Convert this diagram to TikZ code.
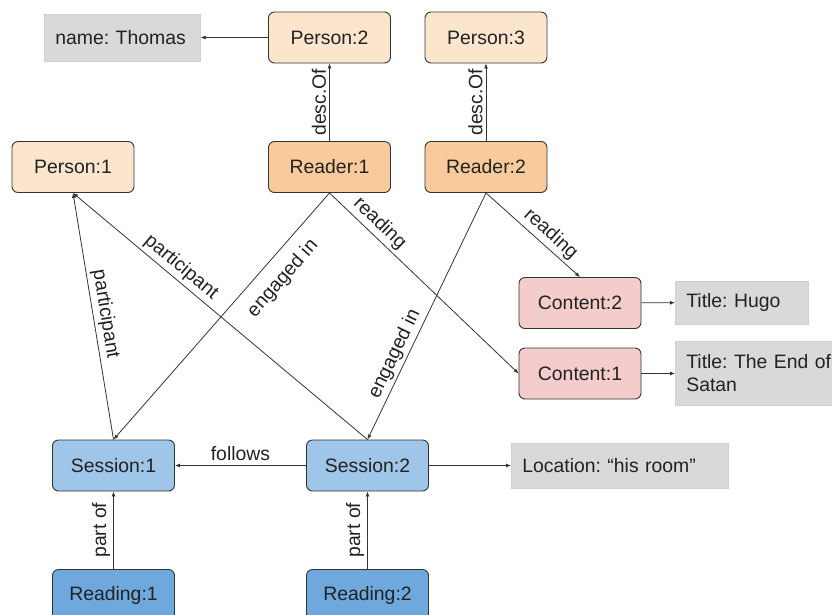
\documentclass[tikz,border=0pt]{standalone}
\usepackage{fontspec}
\setmainfont{Liberation Sans}
\usetikzlibrary{arrows.meta}
\definecolor{personc}{HTML}{FCE5CD}
\definecolor{readerc}{HTML}{F9CB9C}
\definecolor{contentc}{HTML}{F4CCCC}
\definecolor{sessionc}{HTML}{9FC5E8}
\definecolor{readingc}{HTML}{6FA8DC}
\definecolor{attrc}{HTML}{D9D9D9}
\definecolor{attrb}{HTML}{CFCFCF}
\definecolor{linec}{HTML}{333333}
\definecolor{textc}{HTML}{222222}
\frenchspacing
\begin{document}
\begin{tikzpicture}[x=1pt,y=-1pt,
  font=\fontsize{19.4}{23}\selectfont, text=textc,
  ent/.style={draw=linec, line width=0.9pt, rounded corners=6pt,
    minimum width=122pt, minimum height=51pt, inner sep=0pt},
  attr/.style={fill=attrc, draw=attrb, line width=0.6pt, anchor=west,
    inner xsep=11pt, inner ysep=0pt, align=left},
  rel/.style={draw=linec, line width=0.8pt, -{Latex[length=5pt,width=4pt]}},
  lbl/.style={sloped, inner sep=3pt}]
\useasboundingbox (0,0) rectangle (832,614);
\clip (0,0) rectangle (832,614);
% entity nodes
\node[ent, fill=personc] (p2) at (329.5,37.5) {Person:2};
\node[ent, fill=personc] (p3) at (486,37.5) {Person:3};
\node[ent, fill=personc] (p1) at (73,167) {Person:1};
\node[ent, fill=readerc] (r1) at (329.5,167) {Reader:1};
\node[ent, fill=readerc] (r2) at (486,167) {Reader:2};
\node[ent, fill=contentc] (c2) at (580,303) {Content:2};
\node[ent, fill=contentc] (c1) at (580,373.5) {Content:1};
\node[ent, fill=sessionc] (s1) at (113.5,465.5) {Session:1};
\node[ent, fill=sessionc] (s2) at (367.5,465.5) {Session:2};
\node[ent, fill=readingc] (rd1) at (113.5,595) {Reading:1};
\node[ent, fill=readingc] (rd2) at (367.5,595) {Reading:2};
% attribute boxes
\node[attr, text width=134pt, minimum height=47pt] (name) at (44,37.5) {name: Thomas};
\node[attr, text width=111pt, minimum height=43pt] (hugo) at (675,302.5) {Title: Hugo};
\node[attr, text width=160pt, minimum height=64pt] (satan) at (675,373) {Title: The End of\\Satan};
\node[attr, text width=195pt, minimum height=45pt] (loc) at (511,465.5) {Location: “his room”};
% connectors
\draw[rel] (p2) -- (name);
\draw[rel] (r1) -- node[lbl, above] {desc.Of} (p2);
\draw[rel] (r2) -- node[lbl, above] {desc.Of} (p3);
\draw[rel] (s1.north) -- node[lbl, above] {participant} (p1.south);
\draw[rel] (s2.north) -- node[lbl, above, pos=0.66] {participant} (p1.south);
\draw[rel] (r1.south) -- node[lbl, below=9pt, pos=0.29] {engaged in} (s1.north);
\draw[rel] (r1.south) -- node[lbl, above, pos=0.22] {reading} (c1.west);
\draw[rel] (r2.south) -- node[lbl, above, pos=0.675] {engaged in} (s2.north);
\draw[rel] (r2.south) -- node[lbl, above, pos=0.6] {reading} (c2.north);
\draw[rel] (c2) -- (hugo);
\draw[rel] (c1.east) -- (c1.east -| satan.west);
\draw[rel] (s2) -- node[above, inner sep=4pt] {follows} (s1);
\draw[rel] (s2) -- (loc);
\draw[rel] (rd1) -- node[lbl, above] {part of} (s1);
\draw[rel] (rd2) -- node[lbl, above] {part of} (s2);
\end{tikzpicture}
\end{document}
